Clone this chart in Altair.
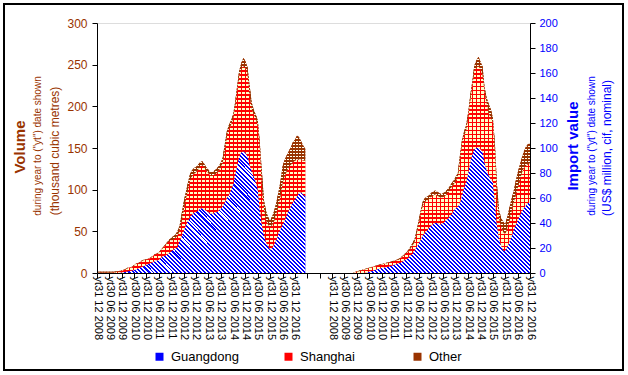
import json
import altair as alt
import pandas as pd

FONT = "Liberation Sans"
BROWN = "#993300"
BLUE = "#0000FF"
RED = "#FF0000"
PALE = "#FFFFC8"

series_names = ["Guangdong", "Shanghai", "Other"]

date_labels = ["yt31 12 2008", "yt30 06 2009", "yt31 12 2009", "yt30 06 2010",
               "yt31 12 2010", "yt30 06 2011", "yt31 12 2011", "yt30 06 2012",
               "yt31 12 2012", "yt30 06 2013", "yt31 12 2013", "yt30 06 2014",
               "yt31 12 2014", "yt30 06 2015", "yt31 12 2015", "yt30 06 2016",
               "yt31 12 2016"]
tick_labels = date_labels + ["", ""] + date_labels

# Volume (thousand m3), monthly, year to date shown, from Dec 2008
vol_guangdong = [0, 0, 0, 0, 0, 0, 0, 0, 0, 0, 0,
                 0.3, 0.5, 1, 1.5, 2, 2.5, 3, 3.5, 4.5, 5.5,
                 6.5, 7.5, 8.5, 10, 11, 12, 13, 14, 15, 16,
                 18, 20, 21, 22, 24, 26, 28, 29, 31, 38,
                 44, 50, 57, 62, 66, 70, 72, 73, 75, 77,
                 78, 76, 75, 73, 71, 71, 72, 73, 75, 77,
                 80, 85, 90, 94, 100, 106, 118, 130, 140, 145,
                 146, 144, 140, 130, 122, 116, 109, 100, 75, 58,
                 45, 37, 32, 28, 30, 35, 40, 47, 53, 58,
                 63, 69, 75, 80, 85, 88, 92, 96, 97, 94, 92]
vol_shanghai = [0.5, 0.5, 0.5, 0.5, 0.5, 0.5, 0.5, 0.6, 0.8, 1.0, 1.5,
                1.7, 2.0, 2.5, 3.0, 4.0, 4.0, 4.0, 5.5, 6.5, 6.0,
                6.5, 7.5, 7.0, 6, 6, 6, 7, 8, 8, 8,
                9, 10, 12, 14, 14, 13, 12, 13, 14, 13,
                18, 25, 31, 37, 44, 46, 47, 48, 49, 51,
                51, 51, 48, 47, 46, 46, 46, 47, 48, 50,
                53, 63, 75, 79, 78, 80, 82, 90, 98, 100,
                102, 102, 100, 85, 75, 75, 76, 77, 75, 47,
                32, 26, 26, 27, 28, 28, 32, 35, 40, 50,
                53, 53, 52, 50, 48, 47, 44, 40, 39, 41, 43]
vol_other = [1.0, 1.0, 1.0, 1.0, 1.0, 1.0, 1.0, 0.9, 0.8, 0.8, 0.7,
             0.7, 0.7, 0.5, 0.5, 0.5, 0.5, 0.5, 0.5, 0.5, 0.5,
             0.5, 0.5, 0.5, 0.5, 0.5, 0.5, 0.5, 0.5, 0.5, 1,
             1, 1, 1, 1, 2, 3, 4, 4, 5, 5,
             8, 10, 8, 8, 8, 7, 7, 6, 6, 5,
             5, 4, 4, 4, 4, 4, 5, 5, 5, 5,
             6, 7, 5, 5, 5, 4, 5, 5, 5, 7,
             10, 8, 7, 10, 8, 5, 5, 6, 5, 15,
             10, 11, 9, 8, 10, 12, 13, 15, 17, 20,
             20, 19, 19, 21, 24, 25, 29, 27, 22, 18, 14]

# Import value (US$ million, cif, nominal), from Dec 2008
val_guangdong = [0, 0, 0, 0, 0, 0, 0, 0, 0, 0, 0,
                 0, 0, 0, 0, 0, 0.3, 0.5, 1.0, 1.5, 2.0,
                 2.5, 3.0, 3.5, 4.0, 4.3, 4.6, 5.0, 5.5, 6.0, 6.5,
                 7.0, 7.5, 8.3, 9.0, 10, 11, 12, 14, 15.5, 18,
                 21, 23, 27, 30, 32, 34, 36, 38, 39, 40,
                 40, 39, 39, 40, 42, 43, 45, 47, 50, 52,
                 53, 56, 62, 68, 72, 80, 88, 95, 99, 100,
                 100, 99, 97, 88, 82, 78, 75, 73, 55, 38,
                 27, 22, 18, 18, 21, 25, 29, 34, 38, 42,
                 46, 49, 52, 54, 56, 57]
val_shanghai = [0, 0, 0, 0, 0, 0, 0, 0, 0, 0, 0,
                0.5, 1.0, 1.5, 2.0, 2.5, 2.7, 3.0, 3.0, 3.0, 3.0,
                3.0, 3.0, 3.0, 3.0, 3.0, 3.0, 3.0, 3.0, 3.0, 3.0,
                3.0, 3.0, 3.2, 4.0, 4.5, 5, 5.5, 5.5, 6.5, 7,
                10, 16, 21, 24, 25, 24, 23, 23, 23, 23,
                22, 22, 21, 21, 20, 21, 21, 22, 21, 22,
                24, 34, 42, 42, 42, 45, 50, 55, 63, 64,
                66, 64, 62, 57, 54, 50, 49, 48, 43, 22,
                17, 15, 15, 13, 15, 17, 20, 22, 24, 26,
                28, 31, 32, 32, 31, 31]
val_other = [0, 0, 0, 0, 0, 0, 0, 0, 0, 0, 0,
             0.3, 0.3, 0.3, 0.3, 0.3, 0.3, 0.3, 0.3, 0.3, 0.3,
             0.3, 0.3, 0.3, 0.3, 0.3, 0.4, 0.4, 0.4, 0.4, 0.5,
             0.5, 0.5, 0.5, 0.5, 0.5, 0.5, 1, 1.5, 2, 2,
             3, 3, 2, 3, 3, 3, 3, 3, 3, 3,
             3, 3, 3, 3, 3, 3, 3, 3, 3, 3,
             3, 4, 2, 3, 4, 3, 4, 3, 4, 6,
             7, 6, 6, 3, 4, 7, 7, 3, 5, 10,
             6, 7, 8, 8, 9, 10, 10, 9, 11, 12,
             12, 12, 13, 15, 16, 16]

VOL_START = 0      # first category of the volume block
VAL_START = 114    # first category of the value block
X_MAX = 210
VOL_MAX = 300
VAL_MAX = 200

PLOT_W, PLOT_H = 433, 250


def long_df(gd, sh, ot, start):
    rows = []
    for k, (g, s, o) in enumerate(zip(gd, sh, ot)):
        i = start + k
        rows.append({"idx": i, "series": "Guangdong", "lo": 0, "hi": g})
        rows.append({"idx": i, "series": "Shanghai", "lo": g, "hi": g + s})
        rows.append({"idx": i, "series": "Other", "lo": g + s, "hi": g + s + o})
    return pd.DataFrame(rows)


vol_df = long_df(vol_guangdong, vol_shanghai, vol_other, VOL_START)
val_df = long_df(val_guangdong, val_shanghai, val_other, VAL_START)


# ---------- fill patterns (gradients with hard stops) ----------
def stripe_stops(length, period, line, c_line, c_gap):
    stops = []
    pos = 0.0
    while pos < length - 1e-9:
        a = pos / length
        b = min(pos + line, length) / length
        c = min(pos + period, length) / length
        stops += [{"offset": round(a, 6), "color": c_line},
                  {"offset": round(b, 6), "color": c_line},
                  {"offset": round(b, 6), "color": c_gap},
                  {"offset": round(c, 6), "color": c_gap}]
        pos += period
    return stops


def diag(W, H, c_line, c_gap, period, line):
    s = (W + H) / (W * W + H * H)
    return {"gradient": "linear", "x1": 0, "y1": 1,
            "x2": round(s * W, 6), "y2": round(1 - s * H, 6),
            "stops": stripe_stops(W + H, period, line, c_line, c_gap)}


def horiz(H, c_line, c_gap, period, line):
    return {"gradient": "linear", "x1": 0, "y1": 0, "x2": 0, "y2": 1,
            "stops": stripe_stops(H, period, line, c_line, c_gap)}


def vert(W, c_line, c_gap, period, line):
    return {"gradient": "linear", "x1": 0, "y1": 0, "x2": 1, "y2": 0,
            "stops": stripe_stops(W, period, line, c_line, c_gap)}


def geometry(gd, sh, ot, ymax):
    k = PLOT_H / ymax
    W = (len(gd) - 1) * PLOT_W / X_MAX
    r = [g + s for g, s in zip(gd, sh)]
    t = [a + o for a, o in zip(r, ot)]
    h_gd = max(gd) * k
    h_sh = (max(r) - min(gd)) * k
    h_ot = (max(t) - min(r)) * k
    return W, h_gd, h_sh, h_ot


X_ENC = alt.X("idx:Q",
              scale=alt.Scale(domain=[0, X_MAX], nice=False, zero=False),
              axis=alt.Axis(values=list(range(0, X_MAX + 1, 6)),
                            labelExpr=json.dumps(tick_labels) + "[round(datum.value/6)]",
                            labelAngle=90, labelFontSize=11, labelFont=FONT,
                            labelColor="black", labelPadding=-2, labelFlush=False,
                            labelOverlap=False, tickSize=5, tickColor="black",
                            domainColor="black", grid=False, title=None, zindex=1))

Y_VOL = alt.Y("hi:Q", scale=alt.Scale(domain=[0, VOL_MAX], nice=False),
              axis=alt.Axis(values=list(range(0, VOL_MAX + 1, 50)), orient="left",
                            labelColor=BROWN, labelFontSize=12, labelFont=FONT,
                            labelPadding=5, tickSize=5, tickColor="black",
                            domainColor="black", grid=False, title=None, zindex=1))
Y_VAL = alt.Y("hi:Q", scale=alt.Scale(domain=[0, VAL_MAX], nice=False),
              axis=alt.Axis(values=list(range(0, VAL_MAX + 1, 20)), orient="right",
                            labelColor=BLUE, labelFontSize=11, labelFont=FONT,
                            labelPadding=4, tickSize=5, tickColor="black",
                            domainColor="black", grid=False, title=None, zindex=1))

COLOR_ENC = alt.Color("series:N",
                      scale=alt.Scale(domain=series_names, range=[BLUE, RED, BROWN]),
                      legend=alt.Legend(title=None, orient="none", legendX=56, legendY=327,
                                        direction="horizontal", symbolType="square",
                                        symbolSize=64, symbolStrokeWidth=0,
                                        labelFontSize=13, labelFont=FONT,
                                        labelColor="black", labelOffset=5,
                                        columnPadding=43, gridAlign="all", padding=0))


def panel(df, y_enc, gd, sh, ot, ymax):
    W, h_gd, h_sh, h_ot = geometry(gd, sh, ot, ymax)
    base = alt.Chart(df).mark_area(opacity=1, interpolate="linear").encode(
        x=X_ENC, y=y_enc, y2=alt.Y2("lo:Q"), color=COLOR_ENC)

    def one(name, fill):
        return alt.Chart(df).transform_filter(alt.datum.series == name).mark_area(
            fill=fill, interpolate="linear").encode(x=X_ENC, y=y_enc, y2=alt.Y2("lo:Q"))

    layers = [base,
              one("Guangdong", diag(W, h_gd, BLUE, "#FFFFFF", 4.0, 2.0)),
              one("Shanghai", horiz(h_sh, RED, PALE, 4.0, 1.2)),
              one("Shanghai", vert(W, RED, "transparent", 4.0, 1.2)),
              one("Other", horiz(h_ot, BROWN, "#FFFFF0", 3.0, 2.0)),
              one("Other", vert(W, BROWN, "transparent", 3.0, 1.0))]
    return alt.layer(*layers)


left = panel(vol_df, Y_VOL, vol_guangdong, vol_shanghai, vol_other, VOL_MAX)
right = panel(val_df, Y_VAL, val_guangdong, val_shanghai, val_other, VAL_MAX)

dummy = alt.Data(values=[{}])


def label(text, x, y, size, color, bold=False):
    return alt.Chart(dummy).mark_text(
        text=text, angle=270, fontSize=size, color=color, font=FONT,
        fontWeight="bold" if bold else "normal", align="center", baseline="middle"
    ).encode(x=alt.value(x), y=alt.value(y))


titles = [
    label("Volume", -77, 124, 15, BROWN, True),
    label('during year to ("yt") date shown', -59, 123, 10, BROWN),
    label("(thousand cubic metres)", -42, 128, 12, BROWN),
    label("Import value", 476, 123, 15, BLUE, True),
    label('during year to ("yt") date shown', 494.5, 123, 10, BLUE),
    label("(US$ million, cif, nominal)", 510, 125, 12, BLUE),
]

border = alt.Chart(dummy).mark_rect(fillOpacity=0, stroke="black", strokeWidth=2).encode(
    x=alt.value(-93), x2=alt.value(526), y=alt.value(-19), y2=alt.value(347))

chart = alt.layer(left, right, *titles, border).resolve_scale(
    y="independent"
).properties(
    width=PLOT_W, height=PLOT_H,
    autosize=alt.AutoSizeParams(type="none"),
    padding={"left": 97, "top": 23, "right": 98, "bottom": 102},
    background="white",
).configure_view(stroke="#808080", strokeWidth=1).configure(font=FONT)

chart.save("out.html", embed_options={"renderer": "svg", "actions": False})
